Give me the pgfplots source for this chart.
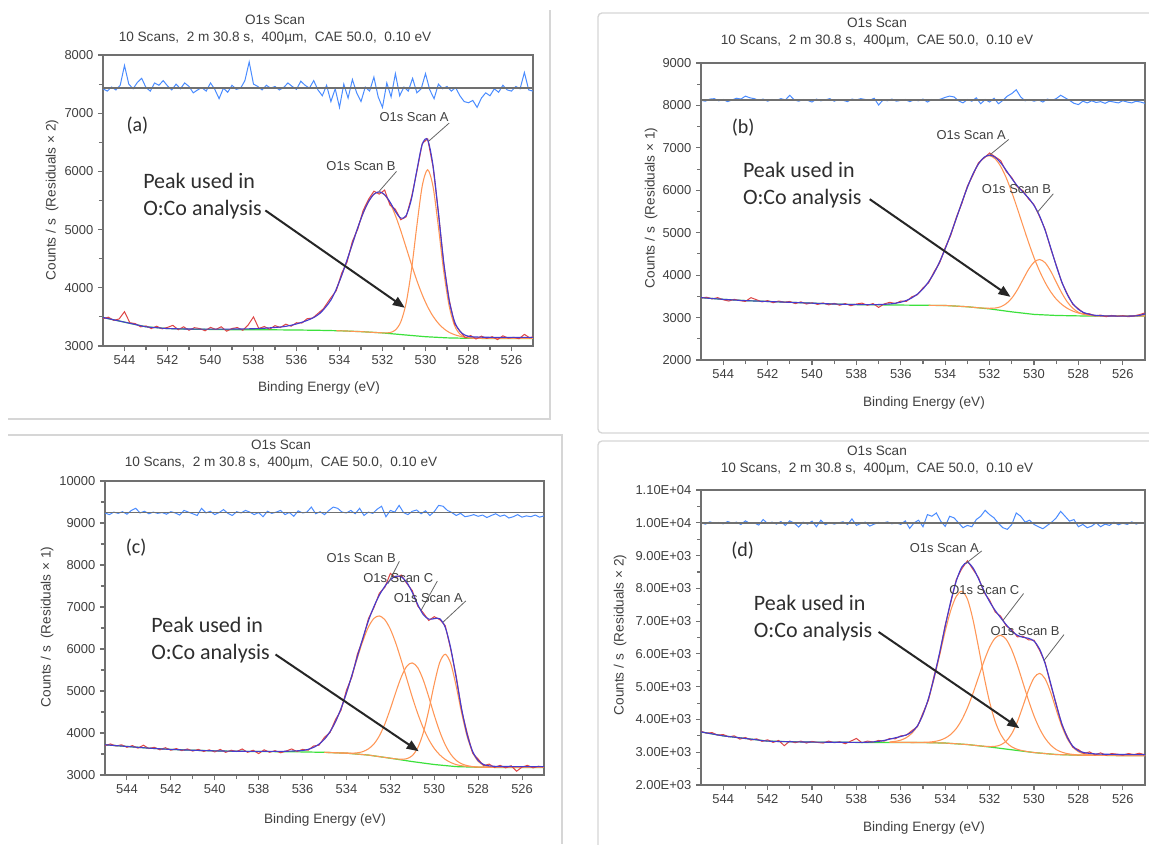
\documentclass[border=0pt]{standalone}
\usepackage{pgfplots}
\pgfplotsset{compat=1.18}
\usepackage{pgfplotstable}
\usetikzlibrary{arrows.meta}
\usepackage{fontspec}
\setmainfont{Liberation Sans}
\newfontfamily\callout{Carlito}

\definecolor{resblue}{RGB}{74,140,255}
\definecolor{rawred}{RGB}{222,70,70}
\definecolor{envblue}{RGB}{70,60,205}
\definecolor{comporange}{RGB}{255,150,85}
\definecolor{bggreen}{RGB}{60,225,60}
\definecolor{framegray}{RGB}{214,214,214}
\definecolor{axgray}{RGB}{112,112,112}
\definecolor{txtgray}{RGB}{64,64,64}

% ---------------- panel (a) ----------------
\pgfplotstableread[row sep=\\]{x y\\
545.0 7420\\ 544.8 7380\\ 544.6 7450\\ 544.4 7400\\ 544.2 7480\\ 544.0 7820\\ 543.8 7500\\ 543.6 7420\\ 543.4 7530\\ 543.2 7600\\
543.0 7440\\ 542.8 7380\\ 542.6 7520\\ 542.4 7480\\ 542.2 7560\\ 542.0 7470\\ 541.8 7400\\ 541.6 7500\\ 541.4 7420\\ 541.2 7520\\
541.0 7460\\ 540.8 7350\\ 540.6 7400\\ 540.4 7440\\ 540.2 7380\\ 540.0 7520\\ 539.8 7410\\ 539.6 7250\\ 539.4 7430\\ 539.2 7360\\
539.0 7480\\ 538.8 7410\\ 538.6 7430\\ 538.4 7560\\ 538.2 7880\\ 538.0 7500\\ 537.8 7460\\ 537.6 7400\\ 537.4 7480\\ 537.2 7430\\
537.0 7460\\ 536.8 7400\\ 536.6 7440\\ 536.4 7520\\ 536.2 7460\\ 536.0 7410\\ 535.8 7550\\ 535.6 7480\\ 535.4 7430\\ 535.2 7560\\
535.0 7400\\ 534.8 7300\\ 534.6 7480\\ 534.4 7200\\ 534.2 7420\\ 534.0 7100\\ 533.8 7500\\ 533.6 7260\\ 533.4 7580\\ 533.2 7350\\
533.0 7200\\ 532.8 7450\\ 532.6 7380\\ 532.4 7620\\ 532.2 7280\\ 532.0 7100\\ 531.8 7520\\ 531.6 7280\\ 531.4 7680\\ 531.2 7300\\
531.0 7450\\ 530.8 7380\\ 530.6 7600\\ 530.4 7350\\ 530.2 7420\\ 530.0 7680\\ 529.8 7400\\ 529.6 7250\\ 529.4 7500\\ 529.2 7420\\
529.0 7460\\ 528.8 7380\\ 528.6 7440\\ 528.4 7300\\ 528.2 7200\\ 528.0 7180\\ 527.8 7220\\ 527.6 7100\\ 527.4 7260\\ 527.2 7350\\
527.0 7300\\ 526.8 7420\\ 526.6 7360\\ 526.4 7480\\ 526.2 7400\\ 526.0 7380\\ 525.8 7460\\ 525.6 7420\\ 525.4 7700\\ 525.2 7400\\
525.0 7380\\
}\resA

\pgfplotstableread[row sep=\\]{x y\\
545.0 3470\\ 544.75 3495\\ 544.5 3440\\ 544.25 3465\\ 544.0 3590\\ 543.75 3400\\ 543.5 3385\\ 543.25 3330\\ 543.0 3345\\ 542.75 3300\\
542.5 3340\\ 542.25 3295\\ 542.0 3320\\ 541.75 3355\\ 541.5 3280\\ 541.25 3330\\ 541.0 3270\\ 540.75 3315\\ 540.5 3300\\ 540.25 3262\\
540.0 3320\\ 539.75 3285\\ 539.5 3330\\ 539.25 3255\\ 539.0 3300\\ 538.75 3318\\ 538.5 3270\\ 538.25 3360\\ 538.0 3500\\ 537.75 3300\\
537.5 3335\\ 537.25 3290\\ 537.0 3350\\ 536.75 3318\\ 536.5 3375\\ 536.25 3340\\ 536.0 3400\\ 535.75 3395\\ 535.5 3470\\ 535.25 3480\\
535.0 3560\\ 534.75 3640\\ 534.4 3830\\ 534.15 3950\\ 533.9 4250\\ 533.65 4440\\ 533.4 4800\\ 533.15 5010\\ 532.9 5330\\ 532.65 5520\\
532.4 5660\\ 532.15 5610\\ 531.9 5680\\ 531.65 5420\\ 531.4 5350\\ 531.15 5170\\ 530.9 5220\\ 530.65 5560\\ 530.4 6000\\ 530.15 6480\\
529.9 6560\\ 529.65 6080\\ 529.4 5300\\ 529.15 4410\\ 528.9 3800\\ 528.65 3380\\ 528.4 3260\\ 528.15 3140\\ 527.9 3180\\ 527.65 3120\\
527.4 3170\\ 527.15 3130\\ 526.9 3160\\ 526.65 3110\\ 526.4 3175\\ 526.15 3135\\ 525.9 3150\\ 525.65 3125\\ 525.4 3200\\ 525.15 3140\\
525.0 3160\\
}\rawA

\pgfplotstableread[row sep=\\]{x y\\
545.0 3490\\ 544.5 3450\\ 544.0 3410\\ 543.5 3370\\ 543.0 3330\\ 542.5 3315\\ 542.0 3300\\ 541.0 3292\\ 540.0 3290\\ 539.0 3291\\
538.0 3297\\ 537.5 3305\\ 537.15 3315\\ 536.9 3322\\ 536.65 3330\\ 536.4 3345\\ 536.15 3365\\ 535.9 3390\\ 535.65 3420\\ 535.4 3455\\
535.15 3500\\ 534.9 3565\\ 534.65 3665\\ 534.4 3790\\ 534.15 3977\\ 533.9 4211\\ 533.65 4475\\ 533.4 4755\\ 533.15 5033\\ 532.9 5283\\
532.65 5481\\ 532.4 5608\\ 532.15 5649\\ 531.9 5600\\ 531.65 5473\\ 531.4 5313\\ 531.15 5198\\ 530.9 5241\\ 530.65 5532\\ 530.4 6022\\
530.15 6467\\ 529.9 6544\\ 529.65 6100\\ 529.4 5288\\ 529.15 4431\\ 528.9 3785\\ 528.65 3420\\ 528.4 3255\\ 528.15 3185\\ 527.9 3160\\
527.65 3155\\ 527.4 3152\\ 527.15 3150\\ 526.65 3148\\ 526.15 3148\\ 525.65 3148\\ 525.0 3148\\
}\envA

\pgfplotstableread[row sep=\\]{x A B\\
534.15 3263 3977\\ 533.9 3261 4211\\ 533.65 3257 4475\\ 533.4 3253 4755\\ 533.15 3249 5033\\ 532.9 3245 5283\\
532.65 3239 5481\\ 532.4 3234 5608\\ 532.15 3229 5648\\ 531.9 3226 5596\\ 531.65 3231 5455\\ 531.4 3275 5243\\
531.15 3414 4981\\ 530.9 3739 4691\\ 530.65 4314 4399\\ 530.4 5072 4123\\ 530.15 5753 3879\\ 529.9 6028 3674\\
529.65 5741 3512\\ 529.4 5047 3389\\ 529.15 4276 3298\\ 528.9 3689 3235\\ 528.65 3354 3195\\ 528.4 3205 3168\\
528.15 3151 3151\\ 527.9 3136 3142\\ 527.65 3132 3136\\ 527.4 3131 3133\\ 527.15 3130 3131\\ 526.9 3130 3130\\
526.4 3130 3130\\ 525.9 3130 3130\\ 525.4 3130 3130\\ 525.0 3130 3130\\
}\compA

\pgfplotstableread[row sep=\\]{x y\\
545 3490\\ 544 3410\\ 543 3330\\ 542 3300\\ 541 3290\\ 540 3285\\ 539 3280\\ 538 3280\\ 537 3278\\ 536 3275\\ 535 3270\\
534 3262\\ 533 3247\\ 532 3225\\ 531 3192\\ 530 3160\\ 529 3140\\ 528 3132\\ 527 3130\\ 526 3130\\ 525 3130\\
}\bgA

% ---------------- panel (b) ----------------
\pgfplotstableread[row sep=\\]{x y\\
545.0 8120\\ 544.8 8100\\ 544.6 8150\\ 544.4 8160\\ 544.2 8110\\ 544.0 8140\\ 543.8 8090\\ 543.6 8130\\ 543.4 8170\\ 543.2 8150\\
543.0 8220\\ 542.8 8180\\ 542.6 8160\\ 542.4 8120\\ 542.2 8150\\ 542.0 8100\\ 541.8 8140\\ 541.6 8120\\ 541.4 8160\\ 541.2 8130\\
541.0 8240\\ 540.8 8130\\ 540.6 8100\\ 540.4 8140\\ 540.2 8120\\ 540.0 8080\\ 539.8 8150\\ 539.6 8110\\ 539.4 8130\\ 539.2 8160\\
539.0 8100\\ 538.8 8140\\ 538.6 8120\\ 538.4 8090\\ 538.2 8150\\ 538.0 8130\\ 537.8 8160\\ 537.6 8140\\ 537.4 8120\\ 537.2 8170\\
537.0 8010\\ 536.8 8130\\ 536.6 8110\\ 536.4 8150\\ 536.2 8100\\ 536.0 8120\\ 535.8 8140\\ 535.6 8090\\ 535.4 8130\\ 535.2 8110\\
535.0 8150\\ 534.8 8080\\ 534.6 8140\\ 534.4 8120\\ 534.2 8150\\ 534.0 8190\\ 533.8 8220\\ 533.6 8200\\ 533.4 8110\\ 533.2 8060\\
533.0 8140\\ 532.8 8100\\ 532.6 8180\\ 532.4 8040\\ 532.2 8140\\ 532.0 8080\\ 531.8 8170\\ 531.6 8040\\ 531.4 8120\\ 531.2 8220\\
531.0 8280\\ 530.8 8370\\ 530.6 8200\\ 530.4 8110\\ 530.2 8140\\ 530.0 8100\\ 529.8 8130\\ 529.6 8080\\ 529.4 8150\\ 529.2 8120\\
529.0 8160\\ 528.8 8240\\ 528.6 8180\\ 528.4 8120\\ 528.2 8050\\ 528.0 8020\\ 527.8 8100\\ 527.6 8060\\ 527.4 8110\\ 527.2 8070\\
527.0 8090\\ 526.8 8050\\ 526.6 8100\\ 526.4 8080\\ 526.2 8060\\ 526.0 8110\\ 525.8 8080\\ 525.6 8060\\ 525.4 8100\\ 525.2 8080\\
525.0 8050\\
}\resB

\pgfplotstableread[row sep=\\]{x y\\
545.0 3460\\ 544.75 3480\\ 544.5 3440\\ 544.25 3470\\ 544.0 3420\\ 543.75 3390\\ 543.5 3430\\ 543.25 3400\\ 543.0 3380\\ 542.75 3470\\
542.5 3420\\ 542.25 3370\\ 542.0 3400\\ 541.75 3350\\ 541.5 3390\\ 541.25 3360\\ 541.0 3380\\ 540.75 3330\\ 540.5 3370\\ 540.25 3320\\
540.0 3350\\ 539.75 3310\\ 539.5 3345\\ 539.25 3300\\ 539.0 3335\\ 538.75 3290\\ 538.5 3330\\ 538.25 3280\\ 538.0 3320\\ 537.75 3340\\
537.5 3290\\ 537.25 3330\\ 537.0 3240\\ 536.75 3320\\ 536.5 3360\\ 536.25 3330\\ 536.0 3390\\ 535.75 3380\\ 535.5 3490\\ 535.25 3540\\
535.0 3700\\ 534.75 3820\\ 534.5 4080\\ 534.25 4290\\ 534.0 4650\\ 533.75 4940\\ 533.5 5360\\ 533.25 5690\\ 533.0 6100\\ 532.75 6360\\
532.5 6650\\ 532.25 6760\\ 532.0 6880\\ 531.75 6790\\ 531.5 6700\\ 531.25 6440\\ 531.0 6300\\ 530.75 6080\\ 530.5 5990\\ 530.25 5800\\
530.0 5660\\ 529.75 5380\\ 529.5 5080\\ 529.25 4630\\ 529.0 4240\\ 528.75 3830\\ 528.5 3560\\ 528.25 3310\\ 528.0 3210\\ 527.75 3100\\
527.5 3090\\ 527.25 3040\\ 527.0 3060\\ 526.75 3020\\ 526.5 3050\\ 526.25 3030\\ 526.0 3045\\ 525.75 3020\\ 525.5 3040\\ 525.25 3070\\
525.0 3110\\
}\rawB

\pgfplotstableread[row sep=\\]{x y\\
545.0 3470\\ 544.0 3430\\ 543.0 3400\\ 542.0 3380\\ 541.0 3360\\ 540.0 3340\\ 539.0 3320\\ 538.0 3306\\ 537.5 3305\\ 537.0 3307\\
536.5 3321\\ 536.25 3338\\ 536.0 3363\\ 535.75 3404\\ 535.5 3466\\ 535.25 3554\\ 535.0 3677\\ 534.75 3842\\ 534.5 4054\\ 534.25 4315\\
534.0 4624\\ 533.75 4967\\ 533.5 5336\\ 533.25 5713\\ 533.0 6072\\ 532.75 6383\\ 532.5 6623\\ 532.25 6777\\ 532.0 6829\\ 531.75 6779\\
531.5 6648\\ 531.25 6469\\ 531.0 6276\\ 530.75 6104\\ 530.5 5959\\ 530.25 5820\\ 530.0 5644\\ 529.75 5398\\ 529.5 5059\\ 529.25 4650\\
529.0 4225\\ 528.75 3845\\ 528.5 3542\\ 528.25 3329\\ 528.0 3193\\ 527.75 3117\\ 527.5 3076\\ 527.25 3054\\ 527.0 3044\\ 526.5 3037\\
526.0 3035\\ 525.5 3038\\ 525.25 3050\\ 525.0 3090\\
}\envB

\pgfplotstableread[row sep=\\]{x A B\\
534.75 3842 3289\\ 534.5 4054 3288\\ 534.25 4315 3286\\ 534.0 4624 3285\\ 533.75 4967 3278\\ 533.5 5336 3270\\
533.25 5713 3263\\ 533.0 6072 3255\\ 532.75 6383 3243\\ 532.5 6623 3231\\ 532.25 6772 3223\\ 532.0 6815 3219\\
531.75 6742 3225\\ 531.5 6563 3255\\ 531.25 6293 3329\\ 531.0 5952 3459\\ 530.75 5570 3654\\ 530.5 5171 3893\\
530.25 4779 4131\\ 530.0 4414 4305\\ 529.75 4098 4369\\ 529.5 3829 4293\\ 529.25 3609 4097\\ 529.0 3437 3838\\
528.75 3311 3582\\ 528.5 3218 3369\\ 528.25 3153 3219\\ 528.0 3108 3125\\ 527.75 3080 3076\\ 527.5 3062 3052\\
527.25 3049 3041\\ 527.0 3042 3037\\ 526.5 3037 3035\\ 526.0 3035 3035\\ 525.5 3038 3038\\ 525.0 3040 3040\\
}\compB

\pgfplotstableread[row sep=\\]{x y\\
545 3470\\ 544 3430\\ 543 3400\\ 542 3380\\ 541 3360\\ 540 3340\\ 539 3320\\ 538 3305\\ 537 3300\\ 536 3295\\ 535 3290\\
534 3285\\ 533 3255\\ 532 3205\\ 531 3135\\ 530 3075\\ 529 3050\\ 528 3040\\ 527 3035\\ 526 3035\\ 525 3040\\
}\bgB

% ---------------- panel (c) ----------------
\pgfplotstableread[row sep=\\]{x y\\
545.0 9240\\ 544.8 9200\\ 544.6 9260\\ 544.4 9230\\ 544.2 9270\\ 544.0 9210\\ 543.8 9300\\ 543.6 9350\\ 543.4 9240\\ 543.2 9280\\
543.0 9220\\ 542.8 9260\\ 542.6 9230\\ 542.4 9250\\ 542.2 9210\\ 542.0 9270\\ 541.8 9240\\ 541.6 9190\\ 541.4 9300\\ 541.2 9260\\
541.0 9220\\ 540.8 9180\\ 540.6 9350\\ 540.4 9240\\ 540.2 9280\\ 540.0 9200\\ 539.8 9250\\ 539.6 9320\\ 539.4 9230\\ 539.2 9180\\
539.0 9270\\ 538.8 9240\\ 538.6 9300\\ 538.4 9260\\ 538.2 9200\\ 538.0 9250\\ 537.8 9150\\ 537.6 9280\\ 537.4 9230\\ 537.2 9260\\
537.0 9300\\ 536.8 9200\\ 536.6 9250\\ 536.4 9160\\ 536.2 9290\\ 536.0 9240\\ 535.8 9260\\ 535.6 9380\\ 535.4 9220\\ 535.2 9270\\
535.0 9200\\ 534.8 9300\\ 534.6 9380\\ 534.4 9350\\ 534.2 9260\\ 534.0 9240\\ 533.8 9300\\ 533.6 9220\\ 533.4 9350\\ 533.2 9180\\
533.0 9260\\ 532.8 9230\\ 532.6 9330\\ 532.4 9400\\ 532.2 9150\\ 532.0 9300\\ 531.8 9260\\ 531.6 9420\\ 531.4 9250\\ 531.2 9200\\
531.0 9280\\ 530.8 9310\\ 530.6 9220\\ 530.4 9290\\ 530.2 9180\\ 530.0 9270\\ 529.8 9420\\ 529.6 9400\\ 529.4 9300\\ 529.2 9250\\
529.0 9180\\ 528.8 9230\\ 528.6 9150\\ 528.4 9170\\ 528.2 9200\\ 528.0 9160\\ 527.8 9190\\ 527.6 9130\\ 527.4 9180\\ 527.2 9220\\
527.0 9160\\ 526.8 9190\\ 526.6 9120\\ 526.4 9150\\ 526.2 9200\\ 526.0 9140\\ 525.8 9170\\ 525.6 9150\\ 525.4 9190\\ 525.2 9140\\
525.0 9170\\
}\resC

\pgfplotstableread[row sep=\\]{x y\\
545.0 3700\\ 544.75 3740\\ 544.5 3690\\ 544.25 3720\\ 544.0 3660\\ 543.75 3700\\ 543.5 3640\\ 543.25 3710\\ 543.0 3630\\ 542.75 3660\\
542.5 3600\\ 542.25 3650\\ 542.0 3590\\ 541.75 3630\\ 541.5 3580\\ 541.25 3620\\ 541.0 3570\\ 540.75 3610\\ 540.5 3560\\ 540.25 3600\\
540.0 3550\\ 539.75 3610\\ 539.5 3540\\ 539.25 3590\\ 539.0 3560\\ 538.75 3620\\ 538.5 3540\\ 538.25 3590\\ 538.0 3510\\ 537.75 3600\\
537.5 3540\\ 537.25 3580\\ 537.0 3530\\ 536.75 3570\\ 536.5 3620\\ 536.25 3560\\ 536.0 3610\\ 535.75 3590\\ 535.5 3690\\ 535.25 3710\\
535.0 3900\\ 534.75 4010\\ 534.5 4320\\ 534.25 4540\\ 534.0 5020\\ 533.75 5340\\ 533.5 5880\\ 533.25 6230\\ 533.0 6720\\ 532.75 6980\\
532.5 7330\\ 532.25 7470\\ 532.0 7800\\ 531.75 7700\\ 531.5 7760\\ 531.25 7560\\ 531.0 7390\\ 530.75 7020\\ 530.5 6860\\ 530.25 6680\\
530.0 6770\\ 529.75 6700\\ 529.5 6560\\ 529.25 5990\\ 529.0 5360\\ 528.75 4530\\ 528.5 4000\\ 528.25 3520\\ 528.0 3380\\ 527.75 3220\\
527.5 3260\\ 527.25 3180\\ 527.0 3230\\ 526.75 3170\\ 526.5 3220\\ 526.25 3090\\ 526.0 3190\\ 525.75 3230\\ 525.5 3170\\ 525.25 3210\\
525.0 3190\\
}\rawC

\pgfplotstableread[row sep=\\]{x y\\
545.0 3720\\ 544.0 3680\\ 543.0 3640\\ 542.0 3610\\ 541.0 3590\\ 540.0 3575\\ 539.0 3566\\ 538.0 3563\\ 537.0 3563\\ 536.5 3570\\
536.25 3576\\ 536.0 3583\\ 535.75 3610\\ 535.5 3657\\ 535.25 3735\\ 535.0 3855\\ 534.75 4029\\ 534.5 4268\\ 534.25 4578\\ 534.0 4956\\
533.75 5377\\ 533.5 5824\\ 533.25 6265\\ 533.0 6671\\ 532.75 7010\\ 532.5 7283\\ 532.25 7494\\ 532.0 7649\\ 531.75 7732\\ 531.5 7719\\
531.25 7587\\ 531.0 7346\\ 530.75 7058\\ 530.5 6819\\ 530.25 6713\\ 530.0 6723\\ 529.75 6721\\ 529.5 6517\\ 529.25 6023\\ 529.0 5310\\
528.75 4567\\ 528.5 3959\\ 528.25 3560\\ 528.0 3345\\ 527.75 3250\\ 527.5 3218\\ 527.25 3207\\ 527.0 3203\\ 526.0 3200\\ 525.0 3200\\
}\envC

\pgfplotstableread[row sep=\\]{x B C A\\
535.0 3855 3540 3540\\ 534.75 4029 3535 3535\\ 534.5 4268 3530 3530\\ 534.25 4578 3525 3525\\ 534.0 4951 3525 3520\\
533.75 5365 3521 3509\\ 533.5 5793 3529 3498\\ 533.25 6194 3557 3486\\ 533.0 6523 3623 3475\\ 532.75 6728 3738 3456\\
532.5 6788 3933 3438\\ 532.25 6697 4216 3419\\ 532.0 6472 4576 3401\\ 531.75 6136 4972 3384\\ 531.5 5727 5337 3375\\
531.25 5287 5591 3389\\ 531.0 4854 5670 3462\\ 530.75 4460 5554 3650\\ 530.5 4120 5262 4007\\ 530.25 3846 4860 4543\\
530.0 3633 4426 5164\\ 529.75 3481 4035 5681\\ 529.5 3372 3720 5875\\ 529.25 3298 3495 5656\\ 529.0 3248 3348 5114\\
528.75 3221 3267 4471\\ 528.5 3206 3224 3915\\ 528.25 3195 3201 3536\\ 528.0 3188 3190 3327\\ 527.75 3185 3186 3233\\
527.5 3183 3183 3198\\ 527.25 3181 3181 3185\\ 527.0 3180 3180 3181\\ 526.0 3180 3180 3180\\ 525.0 3180 3180 3180\\
}\compC

\pgfplotstableread[row sep=\\]{x y\\
545 3720\\ 544 3680\\ 543 3640\\ 542 3610\\ 541 3590\\ 540 3575\\ 539 3565\\ 538 3560\\ 537 3555\\ 536 3550\\ 535 3540\\
534 3520\\ 533 3475\\ 532 3400\\ 531 3320\\ 530 3250\\ 529 3200\\ 528 3185\\ 527 3180\\ 526 3180\\ 525 3180\\
}\bgC

% ---------------- panel (d) ----------------
\pgfplotstableread[row sep=\\]{x y\\
545.0 10000\\ 544.8 9960\\ 544.6 10030\\ 544.4 9980\\ 544.2 10010\\ 544.0 9970\\ 543.8 10040\\ 543.6 9990\\ 543.4 10020\\ 543.2 9950\\
543.0 10060\\ 542.8 9980\\ 542.6 10000\\ 542.4 9930\\ 542.2 10100\\ 542.0 9980\\ 541.8 10020\\ 541.6 9960\\ 541.4 10040\\ 541.2 9920\\
541.0 10060\\ 540.8 9990\\ 540.6 9870\\ 540.4 10020\\ 540.2 9960\\ 540.0 10050\\ 539.8 9880\\ 539.6 10080\\ 539.4 9940\\ 539.2 10010\\
539.0 9960\\ 538.8 10000\\ 538.6 10030\\ 538.4 9950\\ 538.2 10120\\ 538.0 9920\\ 537.8 9980\\ 537.6 10020\\ 537.4 9900\\ 537.2 9960\\
537.0 10010\\ 536.8 9990\\ 536.6 10030\\ 536.4 9970\\ 536.2 10000\\ 536.0 9950\\ 535.8 10060\\ 535.6 9830\\ 535.4 10000\\ 535.2 10080\\
535.0 9880\\ 534.8 10250\\ 534.6 10200\\ 534.4 10300\\ 534.2 10050\\ 534.0 9890\\ 533.8 10200\\ 533.6 10150\\ 533.4 10000\\ 533.2 9850\\
533.0 9920\\ 532.8 9880\\ 532.6 10100\\ 532.4 10200\\ 532.2 10380\\ 532.0 10250\\ 531.8 10150\\ 531.6 9980\\ 531.4 9850\\ 531.2 9800\\
531.0 9950\\ 530.8 10300\\ 530.6 10200\\ 530.4 10020\\ 530.2 10080\\ 530.0 9950\\ 529.8 9880\\ 529.6 9820\\ 529.4 9920\\ 529.2 10020\\
529.0 10150\\ 528.8 10350\\ 528.6 10200\\ 528.4 10050\\ 528.2 10100\\ 528.0 9880\\ 527.8 9950\\ 527.6 9850\\ 527.4 9900\\ 527.2 10000\\
527.0 9880\\ 526.8 9960\\ 526.6 9920\\ 526.4 10020\\ 526.2 9940\\ 526.0 9990\\ 525.8 9950\\ 525.6 10030\\ 525.4 9960\\ 525.2 10010\\
525.0 9970\\
}\resD

\pgfplotstableread[row sep=\\]{x y\\
545.0 3640\\ 544.75 3580\\ 544.5 3600\\ 544.25 3520\\ 544.0 3540\\ 543.75 3470\\ 543.5 3500\\ 543.25 3400\\ 543.0 3450\\ 542.75 3370\\
542.5 3410\\ 542.25 3330\\ 542.0 3380\\ 541.75 3300\\ 541.5 3360\\ 541.25 3200\\ 541.0 3340\\ 540.75 3290\\ 540.5 3340\\ 540.25 3280\\
540.0 3330\\ 539.75 3300\\ 539.5 3280\\ 539.25 3340\\ 539.0 3290\\ 538.75 3320\\ 538.5 3260\\ 538.25 3340\\ 538.0 3420\\ 537.75 3290\\
537.5 3340\\ 537.25 3310\\ 537.0 3360\\ 536.75 3340\\ 536.5 3420\\ 536.25 3410\\ 536.0 3500\\ 535.75 3520\\ 535.5 3660\\ 535.25 3780\\
535.0 4200\\ 534.75 4600\\ 534.5 5330\\ 534.25 6000\\ 534.0 6880\\ 533.75 7560\\ 533.5 8270\\ 533.25 8600\\ 533.0 8840\\ 532.75 8580\\
532.5 8330\\ 532.25 7870\\ 532.0 7640\\ 531.75 7280\\ 531.5 7150\\ 531.25 6850\\ 531.0 6740\\ 530.75 6520\\ 530.5 6540\\ 530.25 6430\\
530.0 6420\\ 529.75 6110\\ 529.5 5740\\ 529.25 5060\\ 529.0 4480\\ 528.75 3840\\ 528.5 3480\\ 528.25 3150\\ 528.0 3080\\ 527.75 2960\\
527.5 3010\\ 527.25 2920\\ 527.0 2980\\ 526.75 2910\\ 526.5 2960\\ 526.25 2940\\ 526.0 2910\\ 525.75 2960\\ 525.5 2930\\ 525.25 2970\\
525.0 2920\\
}\rawD

\pgfplotstableread[row sep=\\]{x y\\
545.0 3620\\ 544.5 3560\\ 544.0 3500\\ 543.5 3460\\ 543.0 3420\\ 542.5 3380\\ 542.0 3340\\ 541.0 3320\\ 540.0 3310\\ 539.0 3305\\
538.0 3302\\ 537.5 3305\\ 537.0 3330\\ 536.75 3360\\ 536.5 3400\\ 536.25 3440\\ 536.0 3480\\ 535.75 3530\\ 535.5 3620\\ 535.25 3807\\
535.0 4157\\ 534.75 4649\\ 534.5 5287\\ 534.25 6041\\ 534.0 6844\\ 533.75 7601\\ 533.5 8227\\ 533.25 8652\\ 533.0 8793\\ 532.75 8628\\
532.5 8294\\ 532.25 7920\\ 532.0 7594\\ 531.75 7327\\ 531.5 7101\\ 531.25 6890\\ 531.0 6702\\ 530.75 6569\\ 530.5 6507\\ 530.25 6477\\
530.0 6391\\ 529.75 6151\\ 529.5 5707\\ 529.25 5103\\ 529.0 4450\\ 528.75 3880\\ 528.5 3451\\ 528.25 3185\\ 528.0 3045\\ 527.75 2990\\
527.5 2965\\ 527.25 2950\\ 527.0 2942\\ 526.5 2935\\ 526.0 2930\\ 525.5 2928\\ 525.0 2925\\
}\envD

\pgfplotstableread[row sep=\\]{x A C B\\
536.5 3314 3300 3300\\ 536.25 3332 3300 3300\\ 536.0 3370 3300 3300\\ 535.75 3445 3299 3299\\ 535.5 3580 3298 3298\\
535.25 3804 3299 3296\\ 535.0 4149 3303 3295\\ 534.75 4631 3309 3291\\ 534.5 5249 3326 3288\\ 534.25 5962 3363 3284\\
534.0 6693 3431 3280\\ 533.75 7326 3544 3269\\ 533.5 7760 3725 3258\\ 533.25 7906 3992 3246\\ 533.0 7673 4355 3235\\
532.75 7049 4795 3216\\ 532.5 6201 5290 3199\\ 532.25 5312 5783 3183\\ 532.0 4535 6205 3174\\ 531.75 3942 6483 3180\\
531.5 3544 6568 3225\\ 531.25 3301 6440 3341\\ 531.0 3164 6120 3568\\ 530.75 3089 5658 3930\\ 530.5 3046 5125 4402\\
530.25 3015 4590 4894\\ 530.0 2991 4110 5270\\ 529.75 2975 3721 5405\\ 529.5 2960 3427 5240\\ 529.25 2945 3220 4828\\
529.0 2930 3081 4299\\ 528.75 2925 3004 3801\\ 528.5 2920 2958 3413\\ 528.25 2915 2933 3160\\ 528.0 2910 2918 3017\\
527.75 2909 2912 2950\\ 527.5 2908 2908 2922\\ 527.25 2906 2906 2910\\ 527.0 2905 2905 2906\\ 526.5 2903 2903 2903\\
526.0 2900 2900 2900\\ 525.0 2900 2900 2900\\
}\compD

\pgfplotstableread[row sep=\\]{x y\\
545 3620\\ 544 3500\\ 543 3420\\ 542 3340\\ 541 3320\\ 540 3310\\ 539 3305\\ 538 3300\\ 537 3300\\ 536 3300\\ 535 3295\\
534 3280\\ 533 3235\\ 532 3160\\ 531 3075\\ 530 2990\\ 529 2930\\ 528 2910\\ 527 2905\\ 526 2900\\ 525 2900\\
}\bgD

\pgfplotsset{
  xpspanel/.style={
    scale only axis, x dir=reverse, xmin=525, xmax=545,
    xtick={526,528,...,544}, minor x tick num=1, minor y tick num=1,
    scaled ticks=false,
    tick align=outside, tick pos=left,
    major tick length=3.75pt, minor tick length=3pt,
    tick style={axgray, line width=0.8pt},
    axis line style={axgray, line width=1.1pt},
    tick label style={font=\fontsize{9.7}{11}\selectfont, text=txtgray},
    /pgf/number format/assume math mode=true,
    /pgf/number format/1000 sep={},
    anchor=south west,
  },
  resid/.style={resblue, line width=0.75pt, no markers},
  zeroline/.style={axgray, line width=1.1pt, no markers},
  raw/.style={rawred, line width=0.75pt, no markers},
  env/.style={envblue, line width=0.85pt, no markers, smooth},
  comp/.style={comporange, line width=0.8pt, no markers, smooth},
  bgline/.style={bggreen, line width=0.9pt, no markers},
}
\tikzset{
  peaklabel/.style={font=\fontsize{9.7}{11}\selectfont, text=txtgray, inner sep=0pt},
  leader/.style={black!60, line width=0.6pt},
  callouttext/.style={font=\callout\fontsize{16.5}{20.25}\selectfont, text=black!82, align=left, anchor=west, inner sep=0pt},
  panelletter/.style={font=\callout\fontsize{15}{18}\selectfont, text=black!82, inner sep=0pt},
  pointer/.style={-{Triangle[length=9pt,width=7pt]}, line width=1.5pt, black!85},
  titletext/.style={font=\fontsize{10.2}{12}\selectfont, text=txtgray, inner sep=0pt},
}

\begin{document}
\begin{tikzpicture}[x=0.75pt,y=-0.75pt]
\useasboundingbox (0,0) rectangle (1149,844);
\fill[white] (0,0) rectangle (1149,844);

% panel frames
\draw[framegray, line width=1pt] (8,419) -- (550,419) -- (550,10);
\draw[framegray, line width=1pt, rounded corners=3pt] (1149,13) -- (598,13) -- (598,433) -- (1149,433);
\draw[framegray, line width=1pt] (8,435) -- (562,435) -- (562,844);
\draw[framegray, line width=1pt, rounded corners=3pt] (1149,441) -- (598,441) -- (598,846);

% titles and axis labels
\foreach \cx/\ty in {275/20, 877/23, 281/445, 877/451}{
  \node[titletext] at (\cx,\ty) {O1s Scan};
  \node[titletext] at (\cx,\ty+18) {10 Scans,\ \ 2 m 30.8 s,\ \ 400µm,\ \ CAE 50.0,\ \ 0.10 eV};
}
\node[titletext] at (319,388) {Binding Energy (eV)};
\node[titletext] at (924,403) {Binding Energy (eV)};
\node[titletext] at (325,820) {Binding Energy (eV)};
\node[titletext] at (924,828) {Binding Energy (eV)};
\node[titletext, rotate=90] at (52,200) {Counts / s\ \ (Residuals × 2)};
\node[titletext, rotate=90] at (651,208) {Counts / s\ \ (Residuals × 1)};
\node[titletext, rotate=90] at (47,627) {Counts / s\ \ (Residuals × 1)};
\node[titletext, rotate=90] at (620,635) {Counts / s\ \ (Residuals × 2)};

% ---- (a)
\begin{axis}[xpspanel, at={(77.25pt,-259.5pt)}, width=322.5pt, height=218.25pt,
  ymin=3000, ymax=8000, ytick={3000,4000,...,8000}]
  \addplot[resid] table {\resA};
  \addplot[zeroline] coordinates {(545,7430) (525,7430)};
  \addplot[bgline] table {\bgA};
  \addplot[comp] table[x=x,y=A] {\compA};
  \addplot[comp] table[x=x,y=B] {\compA};
  \addplot[raw] table {\rawA};
  \addplot[env] table {\envA};
  \node[panelletter] at (axis cs:543.4,6783) {(a)};
  \node[callouttext] at (axis cs:543.14,5569) {Peak used in\\O:Co analysis};
  \draw[pointer] (axis cs:537.45,5330) -- (axis cs:530.96,3657);
  \node[peaklabel] at (axis cs:530.53,6935) {O1s Scan A};
  \draw[leader] (axis cs:528.9,6830) -- (axis cs:529.85,6520);
  \node[peaklabel] at (axis cs:533.0,6093) {O1s Scan B};
  \draw[leader] (axis cs:531.35,6000) -- (axis cs:532.15,5660);
\end{axis}

% ---- (b)
\begin{axis}[xpspanel, at={(525.75pt,-270pt)}, width=333pt, height=222.75pt,
  ymin=2000, ymax=9000, ytick={2000,3000,...,9000}]
  \addplot[resid] table {\resB};
  \addplot[zeroline] coordinates {(545,8130) (525,8130)};
  \addplot[bgline] table {\bgB};
  \addplot[comp] table[x=x,y=A] {\compB};
  \addplot[comp] table[x=x,y=B] {\compB};
  \addplot[raw] table {\rawB};
  \addplot[env] table {\envB};
  \node[panelletter] at (axis cs:543.1,7469) {(b)};
  \node[callouttext] at (axis cs:543.12,6111) {Peak used in\\O:Co analysis};
  \draw[pointer] (axis cs:537.4,5790) -- (axis cs:531.06,3490);
  \node[peaklabel] at (axis cs:532.83,7291) {O1s Scan A};
  \draw[leader] (axis cs:531.14,7198) -- (axis cs:532.0,6829);
  \node[peaklabel] at (axis cs:530.79,6019) {O1s Scan B};
  \draw[leader] (axis cs:529.13,5918) -- (axis cs:529.85,5480);
\end{axis}

% ---- (c)
\begin{axis}[xpspanel, at={(78.75pt,-581.25pt)}, width=329.25pt, height=220.5pt,
  ymin=3000, ymax=10000, ytick={3000,4000,...,10000}]
  \addplot[resid] table {\resC};
  \addplot[zeroline] coordinates {(545,9250) (525,9250)};
  \addplot[bgline] table {\bgC};
  \addplot[comp] table[x=x,y=B] {\compC};
  \addplot[comp] table[x=x,y=C] {\compC};
  \addplot[comp] table[x=x,y=A] {\compC};
  \addplot[raw] table {\rawC};
  \addplot[env] table {\envC};
  \node[panelletter] at (axis cs:543.58,8405) {(c)};
  \node[callouttext] at (axis cs:542.9,6202) {Peak used in\\O:Co analysis};
  \draw[pointer] (axis cs:537.23,5870) -- (axis cs:530.71,3566);
  \node[peaklabel] at (axis cs:533.33,8169) {O1s Scan B};
  \draw[leader] (axis cs:531.59,8090) -- (axis cs:532.1,7560);
  \node[peaklabel] at (axis cs:531.64,7697) {O1s Scan C};
  \draw[leader] (axis cs:529.86,7618) -- (axis cs:530.6,6920);
  \node[peaklabel] at (axis cs:530.27,7209) {O1s Scan A};
  \draw[leader] (axis cs:528.56,7146) -- (axis cs:529.6,6640);
\end{axis}

% ---- (d)
\begin{axis}[xpspanel, at={(525.75pt,-588.75pt)}, width=333pt, height=221.25pt,
  ymin=2000, ymax=11000, ytick={2000,3000,...,11000},
  yticklabels={2.00E+03,3.00E+03,4.00E+03,5.00E+03,6.00E+03,7.00E+03,8.00E+03,9.00E+03,1.00E+04,1.10E+04}]
  \addplot[resid] table {\resD};
  \addplot[zeroline] coordinates {(545,10000) (525,10000)};
  \addplot[bgline] table {\bgD};
  \addplot[comp] table[x=x,y=A] {\compD};
  \addplot[comp] table[x=x,y=C] {\compD};
  \addplot[comp] table[x=x,y=B] {\compD};
  \addplot[raw] table {\rawD};
  \addplot[env] table {\envD};
  \node[panelletter] at (axis cs:543.12,9144) {(d)};
  \node[callouttext] at (axis cs:542.63,7090) {Peak used in\\O:Co analysis};
  \draw[pointer] (axis cs:537.0,6670) -- (axis cs:530.66,3733);
  \node[peaklabel] at (axis cs:534.04,9244) {O1s Scan A};
  \draw[leader] (axis cs:532.35,9144) -- (axis cs:533.07,8760);
  \node[peaklabel] at (axis cs:532.24,7942) {O1s Scan C};
  \draw[leader] (axis cs:530.47,7842) -- (axis cs:531.4,7020);
  \node[peaklabel] at (axis cs:530.4,6709) {O1s Scan B};
  \draw[leader] (axis cs:528.65,6589) -- (axis cs:529.55,5800);
\end{axis}
\end{tikzpicture}
\end{document}
